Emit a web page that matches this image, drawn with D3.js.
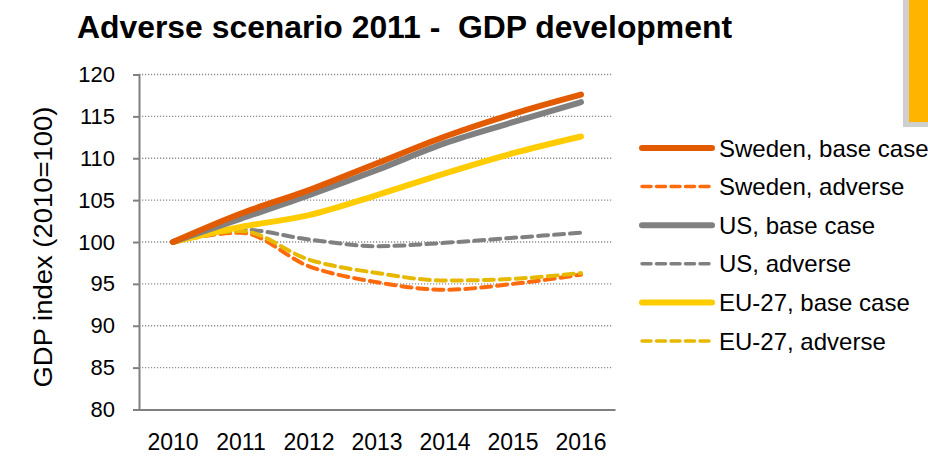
<!DOCTYPE html>
<html>
<head>
<meta charset="utf-8">
<script src="https://cdn.jsdelivr.net/npm/d3@7"></script>
<style>
  body { margin: 0; background: #fff; }
  svg { display: block; font-family: "Liberation Sans", Arial, sans-serif; }
</style>
</head>
<body>
<svg id="chart" width="928" height="457"></svg>
<script>
const years = ['2010', '2011', '2012', '2013', '2014', '2015', '2016'];
const yTicks = [80, 85, 90, 95, 100, 105, 110, 115, 120];

const swedenBase = [100, 103.4, 106.2, 109.4, 112.6, 115.3, 117.6];
const swedenAdverse = [100, 101.1, 97.1, 95.2, 94.3, 95.0, 96.1];
const usBase = [100, 102.8, 105.6, 108.6, 111.8, 114.3, 116.7];
const usAdverse = [100, 101.5, 100.3, 99.5, 99.9, 100.5, 101.1];
const euBase = [100, 101.8, 103.2, 105.6, 108.2, 110.6, 112.6];
const euAdverse = [100, 101.3, 97.9, 96.3, 95.4, 95.6, 96.3];

const series = [
  { name: 'Sweden, base case', values: swedenBase, color: '#E35B00', width: 6, dash: null },
  { name: 'Sweden, adverse', values: swedenAdverse, color: '#FF6A0D', width: 4, dash: '10,6' },
  { name: 'US, base case', values: usBase, color: '#808080', width: 6, dash: null },
  { name: 'US, adverse', values: usAdverse, color: '#808080', width: 4, dash: '10,6' },
  { name: 'EU-27, base case', values: euBase, color: '#FFCC00', width: 6, dash: null },
  { name: 'EU-27, adverse', values: euAdverse, color: '#E6B800', width: 4, dash: '10,6' }
];

const svg = d3.select('#chart');

// decorative bar top right
svg.append('rect').attr('x', 903).attr('y', -2).attr('width', 30).attr('height', 129).attr('fill', '#CFCFCF');
svg.append('rect').attr('x', 909).attr('y', -2).attr('width', 25).attr('height', 124).attr('fill', '#FFB400');

const margin = { left: 139, right: 313, top: 74.5, bottom: 47.5 };
const W = 928, H = 457;

const x = d3.scaleBand().domain(years).range([margin.left, W - margin.right]);
const y = d3.scaleLinear().domain([80, 120]).range([H - margin.bottom, margin.top]);
const xc = d => x(d) + x.bandwidth() / 2;

// title
svg.append('text')
  .attr('x', 77).attr('y', 38)
  .attr('font-size', 32).attr('font-weight', 'bold')
  .attr('fill', '#000')
  .attr('xml:space', 'preserve')
  .attr('textLength', 655).attr('lengthAdjust', 'spacingAndGlyphs')
  .text('Adverse scenario 2011 -  GDP development');

// gridlines
svg.append('g')
  .selectAll('line')
  .data(yTicks.filter(d => d > 80))
  .join('line')
  .attr('x1', margin.left).attr('x2', 613)
  .attr('y1', d => y(d)).attr('y2', d => y(d))
  .attr('stroke', '#8C8C8C').attr('stroke-width', 1.3)
  .attr('stroke-dasharray', '1.2,1.8');

// y axis
const yAxis = svg.append('g')
  .attr('transform', `translate(${margin.left},0)`)
  .call(d3.axisLeft(y).tickValues(yTicks).tickSize(6).tickPadding(18));
yAxis.select('.domain').attr('stroke', '#808080').attr('stroke-width', 2);
yAxis.selectAll('.tick line').attr('stroke', '#808080').attr('stroke-width', 2);
yAxis.selectAll('.tick text').attr('font-size', 22).attr('fill', '#000')
  .attr('font-family', '"Liberation Sans", Arial, sans-serif');

// x axis
const xAxis = svg.append('g')
  .attr('transform', `translate(0,${y(80)})`)
  .call(d3.axisBottom(x).tickSize(0).tickPadding(24));
xAxis.select('.domain').attr('stroke', '#808080').attr('stroke-width', 2);
xAxis.selectAll('.tick text').attr('font-size', 23).attr('fill', '#000')
  .attr('font-family', '"Liberation Sans", Arial, sans-serif');

// y title
svg.append('text')
  .attr('transform', 'translate(52,247) rotate(-90)')
  .attr('text-anchor', 'middle')
  .attr('font-size', 26)
  .attr('fill', '#000')
  .attr('textLength', 281).attr('lengthAdjust', 'spacingAndGlyphs')
  .text('GDP index (2010=100)');

const line = d3.line()
  .x((d, i) => xc(years[i]))
  .y(d => y(d))
  .curve(d3.curveMonotoneX);

const drawOrder = [1, 3, 5, 4, 2, 0];
svg.append('g')
  .selectAll('path')
  .data(drawOrder.map(i => series[i]))
  .join('path')
  .attr('d', d => line(d.values))
  .attr('fill', 'none')
  .attr('stroke', d => d.color)
  .attr('stroke-width', d => d.width)
  .attr('stroke-linecap', 'round')
  .attr('stroke-linejoin', 'round')
  .attr('stroke-dasharray', d => d.dash);

// legend
const legend = svg.append('g')
  .selectAll('g')
  .data(series)
  .join('g')
  .attr('transform', (d, i) => `translate(642,${148 + i * 38.6})`);
legend.append('line')
  .attr('x1', 0).attr('x2', 70)
  .attr('stroke', d => d.color)
  .attr('stroke-width', d => d.dash ? 3.5 : 6)
  .attr('stroke-linecap', 'round')
  .attr('stroke-dasharray', d => d.dash ? '9,5.5' : null);
legend.append('text')
  .attr('x', 77).attr('y', 8.5)
  .attr('font-size', 24)
  .attr('fill', '#000')
  .text(d => d.name);
</script>
</body>
</html>
